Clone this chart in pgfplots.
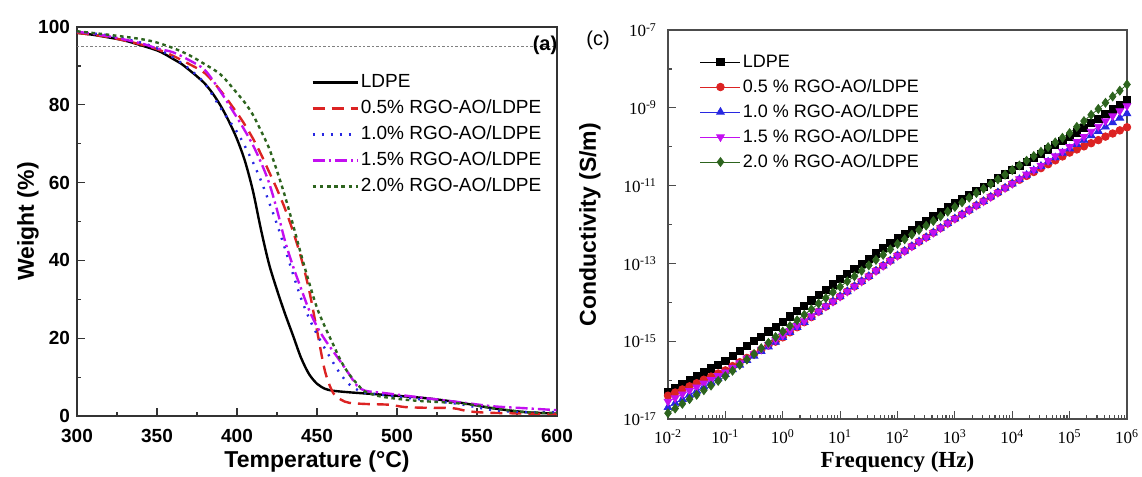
\documentclass[border=0pt]{standalone}
\usepackage{pgfplots}
\pgfplotsset{compat=1.18}
\usepackage{pgfplotstable}
\usepackage{fontspec}
\setmainfont{Liberation Sans}
\newfontfamily\tnr{Liberation Serif}
\definecolor{cred}{RGB}{220,35,35}
\definecolor{cblue}{RGB}{40,40,225}
\definecolor{cmag}{RGB}{195,15,240}
\definecolor{cgreen}{RGB}{45,100,30}
\pgfplotstableread{
lf ldpe r05 r10 r15 r20
-2.000 -16.30 -16.40 -16.70 -16.55 -16.85
-1.875 -16.20 -16.32 -16.59 -16.46 -16.73
-1.750 -16.10 -16.24 -16.49 -16.36 -16.61
-1.625 -16.00 -16.16 -16.38 -16.27 -16.49
-1.500 -15.90 -16.08 -16.28 -16.18 -16.38
-1.375 -15.80 -15.99 -16.17 -16.08 -16.26
-1.250 -15.70 -15.91 -16.06 -15.99 -16.14
-1.125 -15.60 -15.83 -15.96 -15.89 -16.02
-1.000 -15.50 -15.75 -15.85 -15.80 -15.90
-0.875 -15.38 -15.64 -15.73 -15.68 -15.76
-0.750 -15.25 -15.54 -15.61 -15.56 -15.61
-0.625 -15.13 -15.43 -15.49 -15.44 -15.47
-0.500 -15.00 -15.33 -15.38 -15.33 -15.33
-0.375 -14.88 -15.22 -15.26 -15.21 -15.18
-0.250 -14.75 -15.11 -15.14 -15.09 -15.04
-0.125 -14.63 -15.01 -15.02 -14.97 -14.89
0.000 -14.50 -14.90 -14.90 -14.85 -14.75
0.125 -14.36 -14.77 -14.77 -14.73 -14.61
0.250 -14.23 -14.64 -14.64 -14.60 -14.46
0.375 -14.09 -14.51 -14.51 -14.48 -14.32
0.500 -13.95 -14.38 -14.38 -14.35 -14.18
0.625 -13.81 -14.24 -14.24 -14.23 -14.03
0.750 -13.68 -14.11 -14.11 -14.10 -13.89
0.875 -13.54 -13.98 -13.98 -13.98 -13.74
1.000 -13.40 -13.85 -13.85 -13.85 -13.60
1.125 -13.27 -13.72 -13.72 -13.72 -13.46
1.250 -13.14 -13.59 -13.59 -13.59 -13.33
1.375 -13.01 -13.46 -13.46 -13.46 -13.19
1.500 -12.88 -13.33 -13.33 -13.33 -13.05
1.625 -12.74 -13.19 -13.19 -13.19 -12.91
1.750 -12.61 -13.06 -13.06 -13.06 -12.78
1.875 -12.48 -12.93 -12.93 -12.93 -12.64
2.000 -12.35 -12.80 -12.80 -12.80 -12.50
2.125 -12.24 -12.68 -12.68 -12.68 -12.38
2.250 -12.13 -12.56 -12.56 -12.56 -12.26
2.375 -12.01 -12.44 -12.44 -12.44 -12.14
2.500 -11.90 -12.33 -12.33 -12.33 -12.03
2.625 -11.79 -12.21 -12.21 -12.21 -11.91
2.750 -11.68 -12.09 -12.09 -12.09 -11.79
2.875 -11.56 -11.97 -11.97 -11.97 -11.67
3.000 -11.45 -11.85 -11.85 -11.85 -11.55
3.125 -11.34 -11.74 -11.74 -11.74 -11.43
3.250 -11.24 -11.63 -11.63 -11.63 -11.31
3.375 -11.13 -11.51 -11.51 -11.51 -11.19
3.500 -11.03 -11.40 -11.40 -11.40 -11.08
3.625 -10.92 -11.29 -11.29 -11.29 -10.96
3.750 -10.81 -11.18 -11.18 -11.18 -10.84
3.875 -10.71 -11.06 -11.06 -11.06 -10.72
4.000 -10.60 -10.95 -10.95 -10.95 -10.60
4.125 -10.49 -10.85 -10.84 -10.83 -10.48
4.250 -10.39 -10.75 -10.73 -10.71 -10.36
4.375 -10.28 -10.65 -10.61 -10.59 -10.24
4.500 -10.18 -10.55 -10.50 -10.48 -10.13
4.625 -10.07 -10.45 -10.39 -10.36 -10.01
4.750 -9.96 -10.35 -10.28 -10.24 -9.89
4.875 -9.86 -10.25 -10.16 -10.12 -9.77
5.000 -9.75 -10.15 -10.05 -10.00 -9.65
5.125 -9.63 -10.07 -9.94 -9.87 -9.49
5.250 -9.51 -9.99 -9.83 -9.74 -9.34
5.375 -9.39 -9.91 -9.71 -9.61 -9.18
5.500 -9.28 -9.83 -9.60 -9.48 -9.03
5.625 -9.16 -9.74 -9.49 -9.34 -8.87
5.750 -9.04 -9.66 -9.38 -9.21 -8.71
5.875 -8.92 -9.58 -9.26 -9.08 -8.56
6.000 -8.80 -9.50 -9.15 -8.95 -8.40
}\conddata
\begin{document}
\begin{tikzpicture}
\useasboundingbox (0,0) rectangle (571pt,-238.5pt);
% ---------------- left panel (a) ----------------
\begin{axis}[
  at={(38.5pt,-208pt)}, anchor=south west,
  scale only axis, width=240pt, height=194.5pt,
  xmin=300, xmax=600, ymin=0, ymax=100,
  xtick={300,350,...,600}, ytick={0,20,...,100},
  minor x tick num=1, minor y tick num=1,
  tick pos=left, tick align=inside,
  major tick length=4pt, minor tick length=2pt,
  axis line style={line width=0.7pt, draw=black!80},
  tick style={line width=0.6pt, draw=black!80},
  /pgf/number format/assume math mode=true,
  tick label style={font=\bfseries\fontsize{9.5}{11}\selectfont},
  xticklabel style={yshift=-3pt},
  xlabel={Temperature (°C)},
  ylabel={Weight (\%)},
  xlabel style={font=\bfseries\fontsize{11.5}{13}\selectfont, at={(axis description cs:0.5,-0.118)}, anchor=center},
  ylabel style={font=\bfseries\fontsize{11.5}{13}\selectfont, at={(axis description cs:-0.102,0.5)}, anchor=center},
  legend style={draw=none, fill=none, at={(axis description cs:0.4875,0.887)}, anchor=north west,
    font=\fontsize{9.5}{11}\selectfont, row sep=2pt, inner sep=0pt,
    nodes={inner sep=1pt, text height=7pt, text depth=2pt}},
  legend cell align=left,
  legend image code/.code={\draw[#1] (0pt,0pt) -- (22.5pt,0pt);},
  every axis plot/.append style={line width=1.2pt},
]
\addplot[gray, densely dotted, line width=0.5pt, forget plot] coordinates {(300,95) (600,95)};
\addplot[black, smooth] coordinates {(300,98.5)(310,98.0)(320,97.3)(330,96.5)(340,95.3)(350,94.0)(355,93.0)(360,91.8)(365,90.6)(370,89.0)(375,87.3)(380,85.4)(385,82.8)(390,79.6)(395,75.7)(400,71.2)(405,65.5)(410,57.8)(415,47.9)(420,39.1)(425,32.4)(430,26.3)(435,20.7)(440,15.0)(445,10.8)(450,8.3)(455,7.0)(460,6.5)(470,6.1)(480,5.8)(500,5.2)(520,4.5)(540,3.4)(560,2.0)(580,1.0)(600,0.6)};
\addlegendentry{LDPE}
\addplot[cred, smooth, dash pattern=on 6pt off 3.5pt] coordinates {(300,98.5)(320,97.4)(340,95.5)(350,94.3)(360,92.6)(370,90.5)(380,88.1)(390,83.5)(400,77.9)(405,74.8)(410,71.3)(415,67.3)(420,62.8)(425,58.3)(430,53.3)(435,47.5)(440,40.8)(445,32.5)(450,22.0)(455,11.5)(460,6.0)(465,4.2)(470,3.4)(480,3.1)(495,2.9)(505,2.3)(520,2.1)(535,2.0)(545,1.2)(560,0.8)(600,0.5)};
\addlegendentry{0.5\% RGO-AO/LDPE}
\addplot[cblue, smooth, dash pattern=on 1pt off 3.5pt] coordinates {(300,98.8)(320,97.8)(340,96.0)(350,94.5)(360,92.2)(370,89.3)(380,85.4)(390,79.0)(400,73.0)(405,69.3)(410,65.2)(415,60.5)(420,55.0)(425,49.3)(430,43.0)(435,36.5)(440,30.3)(445,25.2)(450,21.0)(455,17.3)(460,13.8)(465,10.6)(470,8.2)(475,6.8)(480,6.0)(500,5.0)(520,4.0)(540,3.0)(560,1.5)(580,1.0)(600,1.0)};
\addlegendentry{1.0\% RGO-AO/LDPE}
\addplot[cmag, smooth, dash pattern=on 6pt off 2pt on 1.2pt off 2pt] coordinates {(300,98.8)(320,97.6)(340,95.8)(350,94.5)(360,93.5)(370,91.5)(380,88.9)(390,83.2)(400,76.7)(405,73.3)(410,69.6)(415,65.2)(420,60.0)(425,53.0)(430,45.0)(435,38.5)(440,32.8)(445,27.3)(450,23.0)(455,19.6)(460,16.7)(465,13.8)(470,10.8)(475,7.8)(480,6.5)(490,6.0)(500,5.5)(520,4.5)(540,3.5)(560,2.5)(580,2.0)(600,1.5)};
\addlegendentry{1.5\% RGO-AO/LDPE}
\addplot[cgreen, smooth, dash pattern=on 1.8pt off 1.8pt] coordinates {(300,98.9)(320,98.0)(340,96.9)(350,96.0)(360,94.6)(370,92.8)(380,90.4)(390,87.7)(400,83.0)(405,80.5)(410,77.4)(415,73.3)(420,68.9)(425,63.0)(430,56.5)(435,49.2)(440,41.6)(445,34.4)(450,27.8)(455,22.9)(460,18.5)(465,14.1)(470,10.8)(475,8.3)(480,6.3)(490,5.0)(510,4.0)(530,3.5)(545,3.0)(560,2.0)(580,1.0)(600,0.8)};
\addlegendentry{2.0\% RGO-AO/LDPE}
\node[font=\bfseries\fontsize{10}{12}\selectfont] at (rel axis cs:0.975,0.954) {(a)};
\end{axis}
% ---------------- right panel (c) ----------------
\begin{axis}[
  at={(334pt,-209.5pt)}, anchor=south west,
  scale only axis, width=229.5pt, height=194.5pt,
  xmode=log, ymode=log,
  xmin=1e-2, xmax=1e6, ymin=1e-17, ymax=1e-7,
  xtick={1e-2,1e-1,1,10,100,1000,1e4,1e5,1e6},
  xticklabels={10\textsuperscript{-2},10\textsuperscript{-1},10\textsuperscript{0},10\textsuperscript{1},10\textsuperscript{2},10\textsuperscript{3},10\textsuperscript{4},10\textsuperscript{5},10\textsuperscript{6}},
  ytick={1e-17,1e-15,1e-13,1e-11,1e-9,1e-7},
  yticklabels={10\textsuperscript{-17},10\textsuperscript{-15},10\textsuperscript{-13},10\textsuperscript{-11},10\textsuperscript{-9},10\textsuperscript{-7}},
  minor ytick={1e-16,1e-14,1e-12,1e-10,1e-8},
  tick pos=left, tick align=inside,
  major tick length=4pt, minor tick length=2pt,
  axis line style={line width=0.7pt, draw=black!70},
  tick style={line width=0.6pt, draw=black!70},
  tick label style={font=\tnr\fontsize{8.5}{10}\selectfont},
  xticklabel style={yshift=-2pt},
  yticklabel style={xshift=-2pt},
  xlabel={Frequency (Hz)},
  ylabel={Conductivity (S/m)},
  xlabel style={font=\tnr\bfseries\fontsize{11.5}{13}\selectfont, at={(axis description cs:0.5,-0.11)}, anchor=center},
  ylabel style={font=\bfseries\fontsize{11.5}{13}\selectfont, at={(axis description cs:-0.17,0.5)}, anchor=center},
  legend style={draw=none, fill=none, at={(axis description cs:0.069,0.947)}, anchor=north west,
    font=\fontsize{9}{10}\selectfont, row sep=1.5pt, inner sep=0pt,
    nodes={inner sep=1pt, text height=7pt, text depth=2pt}},
  legend cell align=left,
  legend image code/.code={\draw[#1, mark repeat=2, mark phase=2] plot coordinates {(0pt,0pt) (10pt,0pt) (20pt,0pt)};},
  every axis plot/.append style={line width=0.4pt, mark size=1.8pt},
]
\addplot[black, mark=square*] table[x expr=10^(\thisrow{lf}), y expr=10^(\thisrow{ldpe})] {\conddata};
\addlegendentry{LDPE}
\addplot[cred, mark=*, mark size=1.9pt] table[x expr=10^(\thisrow{lf}), y expr=10^(\thisrow{r05})] {\conddata};
\addlegendentry{0.5 \% RGO-AO/LDPE}
\addplot[cblue, mark=triangle*, mark size=2.2pt] table[x expr=10^(\thisrow{lf}), y expr=10^(\thisrow{r10})] {\conddata};
\addlegendentry{1.0 \% RGO-AO/LDPE}
\addplot[cmag, mark=triangle*, mark size=2.2pt, mark options={rotate=180}] table[x expr=10^(\thisrow{lf}), y expr=10^(\thisrow{r15})] {\conddata};
\addlegendentry{1.5 \% RGO-AO/LDPE}
\addplot[cgreen, mark=diamond*, mark size=2.2pt] table[x expr=10^(\thisrow{lf}), y expr=10^(\thisrow{r20})] {\conddata};
\addlegendentry{2.0 \% RGO-AO/LDPE}
\end{axis}
\node[font=\fontsize{10}{12}\selectfont] at (299pt,-20pt) {(c)};
\end{tikzpicture}
\end{document}
